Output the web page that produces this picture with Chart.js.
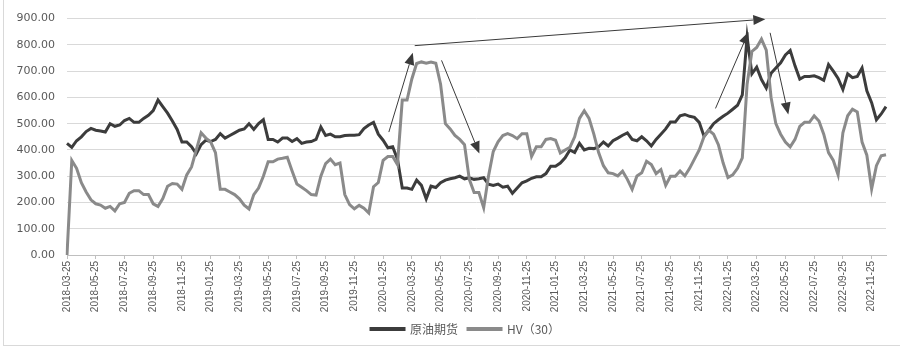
<!DOCTYPE html>
<html>
<head>
<meta charset="utf-8">
<script src="https://cdn.jsdelivr.net/npm/chart.js@4.4.1/dist/chart.umd.min.js"></script>
<style>
  html, body { margin: 0; padding: 0; background: #fff; }
  #wrap { position: relative; width: 900px; height: 347px; }
  #frame { position: absolute; left: 3px; top: 0; width: 896px; height: 345px;
           border-left: 1px solid #d9d9d9; border-bottom: 1px solid #d9d9d9; }
  canvas { position: absolute; left: 0; top: 0; }
</style>
</head>
<body>
<div id="wrap">
  <div id="frame"></div>
  <canvas id="zeChart" width="900" height="347"></canvas>
</div>
<script>
// tick labels on the x axis, one every 6 points
var tickLabels = [
  '2018-03-25','2018-05-25','2018-07-25','2018-09-25','2018-11-25',
  '2019-01-25','2019-03-25','2019-05-25','2019-07-25','2019-09-25','2019-11-25',
  '2020-01-25','2020-03-25','2020-05-25','2020-07-25','2020-09-25','2020-11-25',
  '2021-01-25','2021-03-25','2021-05-25','2021-07-25','2021-09-25','2021-11-25',
  '2022-01-25','2022-03-25','2022-05-25','2022-07-25','2022-09-25','2022-11-25'
];
var pointsPerTick = 6;

// 原油期货
var oilFutures = [
  425,410,435,450,470,482,475,472,468,500,490,495,512,520,505,505,
  520,532,550,590,565,540,510,478,430,430,412,385,420,437,432,440,462,445,455,465,475,480,500,478,500,515,440,440,
  430,445,445,432,443,425,430,432,440,487,455,460,450,450,455,456,456,458,481,495,505,460,437,408,412,365,255,255,
  250,285,265,214,262,257,275,285,290,294,300,290,294,288,290,294,270,265,270,258,262,235,255,275,282,292,298,298,
  310,338,338,350,370,400,390,425,400,406,405,412,430,415,435,445,456,465,440,435,450,435,415,440,460,480,506,506,
  530,535,528,524,505,452,475,500,515,528,540,555,570,610,830,690,715,668,636,692,712,732,762,779,720,670,680,680,
  682,675,665,725,700,672,630,690,675,680,712,625,580,515,537,565
];

// HV (30)
var hv30 = [
  0,360,330,275,240,210,195,190,178,185,168,195,200,235,245,245,
  230,230,195,185,215,262,272,270,250,305,335,400,465,445,430,390,250,250,240,230,214,190,175,230,255,300,355,355,
  365,368,372,320,270,258,245,230,228,300,348,365,344,350,230,192,176,189,178,160,260,276,360,375,375,344,590,590,
  670,729,735,730,735,730,650,500,480,455,440,420,288,238,238,180,300,394,431,455,462,455,443,462,462,375,412,412,
  440,443,437,388,400,410,450,520,549,520,460,390,340,313,310,301,319,288,250,301,313,357,344,310,325,265,300,300,
  320,301,330,365,400,450,475,460,420,350,295,305,330,370,650,775,790,822,780,600,500,460,430,412,440,490,505,505,
  530,510,460,390,360,305,465,530,555,545,430,380,251,340,378,382
];

var yTicks = [0, 100, 200, 300, 400, 500, 600, 700, 800, 900];

// arrows drawn on the chart: [fromIndex, fromValue, toIndex, toValue]
var arrows = [
  [67.2, 468, 72.2, 770],
  [72.6, 797, 145.8, 898],
  [78.2, 741, 86.1, 386],
  [135.4, 558, 142.3, 849],
  [146.8, 846, 150.6, 535]
];

var categories = oilFutures.map(function (v, i) {
  return i % pointsPerTick === 0 ? tickLabels[i / pointsPerTick] : '';
});

const arrowPlugin = {
  id: 'arrows',
  afterLayout: (chart) => {
    // legend sits a bit right of centre in the original
    chart.legend.left += 19;
    chart.legend.right += 19;
  },
  afterDatasetsDraw: (chart) => {
    const { ctx } = chart;
    const xs = chart.scales.x, ys = chart.scales.y;
    ctx.save();
    ctx.strokeStyle = '#3a3a3a';
    ctx.fillStyle = '#3a3a3a';
    ctx.lineWidth = 1;
    arrows.forEach(function (a) {
      var x1 = xs.getPixelForValue(a[0]), y1 = ys.getPixelForValue(a[1]);
      var x2 = xs.getPixelForValue(a[2]), y2 = ys.getPixelForValue(a[3]);
      var ang = Math.atan2(y2 - y1, x2 - x1);
      var len = 12, half = 5;
      var bx = x2 - len * Math.cos(ang), by = y2 - len * Math.sin(ang);
      ctx.beginPath();
      ctx.moveTo(x1, y1);
      ctx.lineTo(bx, by);
      ctx.stroke();
      ctx.beginPath();
      ctx.moveTo(x2, y2);
      ctx.lineTo(bx + half * Math.sin(ang), by - half * Math.cos(ang));
      ctx.lineTo(bx - half * Math.sin(ang), by + half * Math.cos(ang));
      ctx.closePath();
      ctx.fill();
    });
    ctx.restore();
  }
};

var config = {
  type: 'line',
  data: {
    labels: categories,
    datasets: [
      {
        label: '原油期货',
        data: oilFutures,
        borderColor: '#3c3c3c',
        backgroundColor: '#3c3c3c',
        borderWidth: 3,
        pointRadius: 0,
        tension: 0,
        order: 1
      },
      {
        label: 'HV（30）',
        data: hv30,
        borderColor: '#8a8a8a',
        backgroundColor: '#8a8a8a',
        borderWidth: 3,
        pointRadius: 0,
        tension: 0,
        order: 0
      }
    ]
  },
  options: {
    responsive: false,
    animation: false,
    layout: { padding: { top: 6, right: 7, bottom: 2, left: 0 } },
    plugins: {
      tooltip: { enabled: false },
      legend: {
        position: 'bottom',
        labels: {
          boxWidth: 33,
          boxHeight: 1,
          padding: 10,
          color: '#595959',
          font: { family: "'Noto Sans CJK SC', 'DejaVu Sans'", size: 12 },
          sort: (a, b) => a.datasetIndex - b.datasetIndex
        }
      }
    },
    scales: {
      x: {
        type: 'category',
        offset: false,
        afterFit: (s) => { s.height = 58; },
        border: { display: true, color: '#bfbfbf', width: 1 },
        grid: {
          drawOnChartArea: false,
          drawTicks: true,
          tickLength: 4,
          color: (c) => (c.index % pointsPerTick === 0 ? '#bfbfbf' : 'rgba(0,0,0,0)')
        },
        ticks: {
          autoSkip: false,
          maxRotation: 90,
          minRotation: 90,
          padding: 2,
          color: '#595959',
          font: { family: "'Liberation Sans'", size: 10 }
        }
      },
      y: {
        min: 0,
        max: 900,
        afterFit: (s) => { s.width = 67; },
        afterBuildTicks: (s) => { s.ticks = yTicks.map(v => ({ value: v })); },
        border: { display: false },
        grid: { color: '#d9d9d9', lineWidth: 1, drawTicks: false },
        ticks: {
          padding: 12,
          color: '#595959',
          font: { family: "'DejaVu Sans'", size: 11 },
          callback: (v) => Number(v).toFixed(2)
        }
      }
    }
  },
  plugins: [arrowPlugin]
};

let zeChart = new Chart(document.getElementById('zeChart'), config);
</script>
</body>
</html>
